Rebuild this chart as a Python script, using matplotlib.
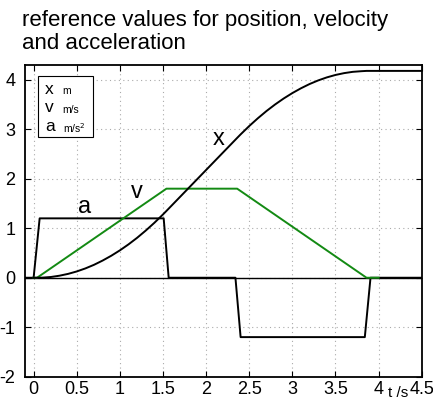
import numpy as np
from matplotlib import pyplot as plt
from matplotlib.patches import Rectangle

plt.rcParams['font.family'] = ['Liberation Sans', 'DejaVu Sans']

# acceleration profile (m/s^2), corner points
t_a = [-0.1, 0.0, 0.07, 1.508, 1.566, 2.34, 2.40, 3.84, 3.906, 4.5]
a = [0.0, 0.0, 1.2, 1.2, 0.0, 0.0, -1.2, -1.2, 0.0, 0.0]

# velocity profile (m/s), corner points
t_v = [0.0, 0.04, 1.54, 2.36, 3.86, 4.0]
v = [0.0, 0.0, 1.8, 1.8, 0.0, 0.0]

# position (m), sampled every 0.1 s
t_x = [0.0, 0.1, 0.2, 0.3, 0.4, 0.5, 0.6, 0.7, 0.8, 0.9, 1.0, 1.1, 1.2, 1.3,
       1.4, 1.5, 1.54, 1.6, 1.7, 1.8, 1.9, 2.0, 2.1, 2.2, 2.3, 2.36, 2.4, 2.5,
       2.6, 2.7, 2.8, 2.9, 3.0, 3.1, 3.2, 3.3, 3.4, 3.5, 3.6, 3.7, 3.8, 3.86,
       4.0, 4.5]
x = [0.0, 0.002, 0.015, 0.041, 0.078, 0.127, 0.188, 0.261, 0.347, 0.444,
     0.553, 0.674, 0.807, 0.953, 1.110, 1.279, 1.350, 1.458, 1.638, 1.818,
     1.998, 2.178, 2.358, 2.538, 2.718, 2.826, 2.897, 3.066, 3.223, 3.369,
     3.502, 3.623, 3.732, 3.829, 3.915, 3.988, 4.049, 4.098, 4.135, 4.161,
     4.174, 4.180, 4.180, 4.180]

xticks = [0, 0.5, 1, 1.5, 2, 2.5, 3, 3.5, 4, 4.5]
xtick_labels = ['0', '0.5', '1', '1.5', '2', '2.5', '3', '3.5', '4', '4.5']
yticks = [-2, -1, 0, 1, 2, 3, 4]
ytick_labels = ['-2', '-1', '0', '1', '2', '3', '4']

fig = plt.figure(figsize=(4.33, 4.01), dpi=100)
ax = fig.add_axes([0.0577, 0.0606, 0.9163, 0.7774])

ax.axhline(0, color='black', lw=1.0)
ax.plot(t_a, a, color='black', lw=1.4)
ax.plot(t_v, v, color='#138a13', lw=1.4)
ax.plot(t_x, x, color='black', lw=1.4)

ax.text(2.14, 2.8, 'x', fontsize=17, ha='center', va='center')
ax.text(1.2, 1.74, 'v', fontsize=17, ha='center', va='center')
ax.text(0.59, 1.42, 'a', fontsize=17, ha='center', va='center')

ax.set_xlim(-0.1, 4.5)
ax.set_ylim(-2, 4.3)
ax.set_xticks(xticks)
ax.set_xticklabels(xtick_labels)
ax.set_yticks(yticks)
ax.set_yticklabels(ytick_labels)
ax.tick_params(direction='in', top=True, right=True, length=4, labelsize=13)
ax.tick_params(axis='x', pad=3)
ax.tick_params(axis='y', pad=7)
ax.grid(True, color='#aaaaaa', linestyle=(0, (1, 3)), lw=0.8)
for s in ax.spines.values():
    s.set_linewidth(1.3)

# hand-made legend box
ax.add_patch(Rectangle((0.033, 0.768), 0.139, 0.198, transform=ax.transAxes,
                       facecolor='white', edgecolor='black', lw=0.8, zorder=5))
units = [('x', 'm'), ('v', 'm/s'), ('a', 'm/s$^2$')]
for i, (sym, unit) in enumerate(units):
    yy = 0.92 - i * 0.058
    ax.text(0.05, yy, sym, transform=ax.transAxes, fontsize=12.5,
            va='center', zorder=6)
    ax.text(0.095, yy - 0.005, unit, transform=ax.transAxes, fontsize=7.5,
            va='center', zorder=6)

fig.text(0.897, 0.003, 't /s', fontsize=11, va='bottom')
fig.text(0.05, 0.975, 'reference values for position, velocity\nand acceleration',
         fontsize=16, va='top', ha='left', linespacing=1.15)

fig.savefig('out.png', dpi=100)
